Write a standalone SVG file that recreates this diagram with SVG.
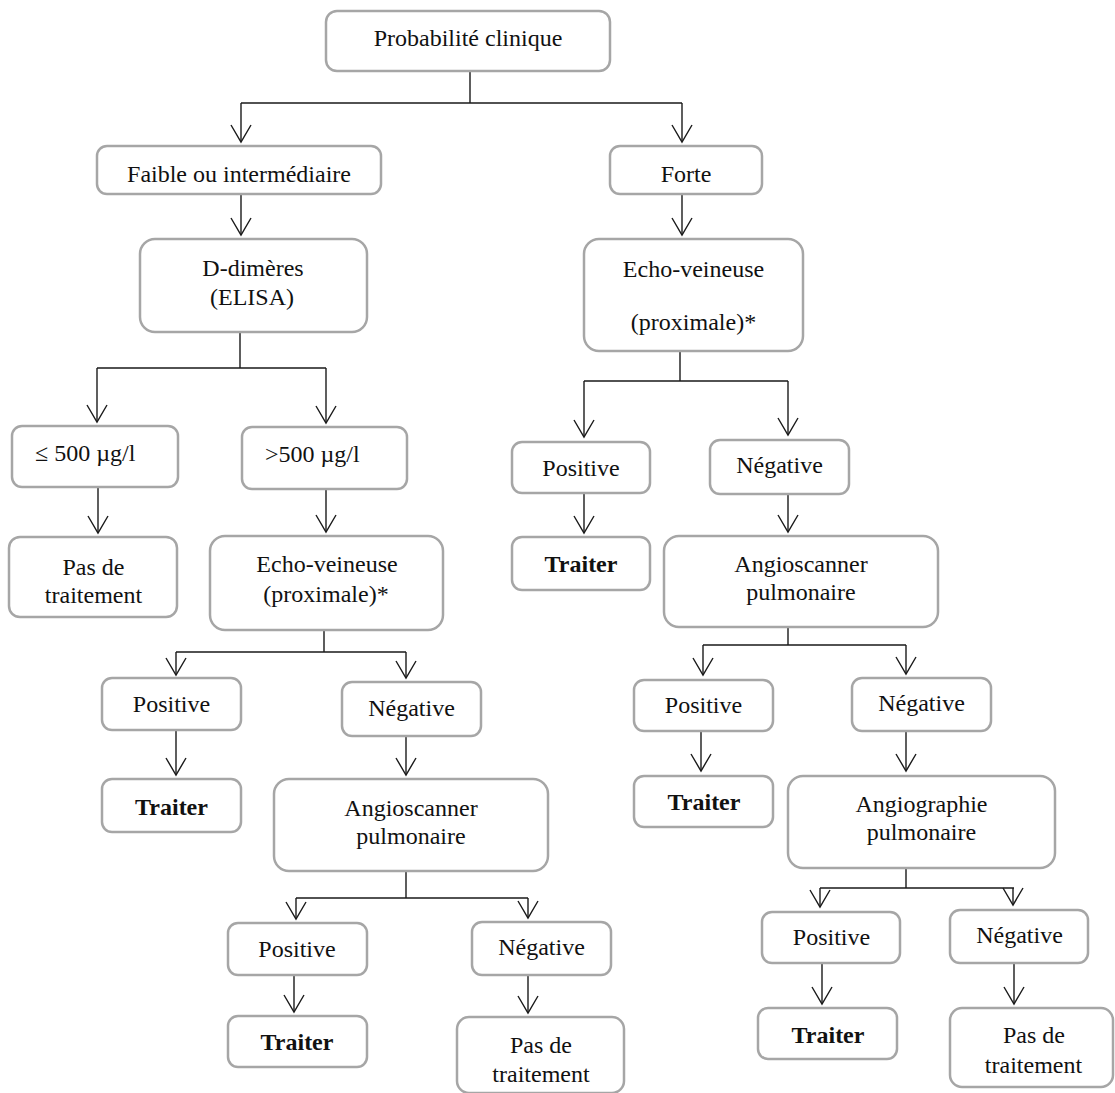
<svg xmlns="http://www.w3.org/2000/svg" width="1115" height="1093" viewBox="0 0 1115 1093">
  <defs>
    <style>
      .box { fill: #ffffff; stroke: #a6a6a6; stroke-width: 2.5; }
      .lbl { font-family: "Liberation Serif", "Times New Roman", serif; font-size: 24px; fill: #111111; text-anchor: middle; }
      .lbl-s { font-family: "Liberation Serif", "Times New Roman", serif; font-size: 24px; fill: #111111; text-anchor: start; }
      .bold { font-weight: bold; }
      .wire { fill: none; stroke: #1a1a1a; stroke-width: 1.4; }
      .arrow { marker-end: url(#vhead); }
    </style>
    <marker id="vhead" markerUnits="userSpaceOnUse" markerWidth="24" markerHeight="24" refX="17" refY="10" orient="auto" overflow="visible">
      <path d="M0,0 L17,10 L0,20" fill="none" stroke="#1a1a1a" stroke-width="1.4"/>
    </marker>
  </defs>
  <rect width="1115" height="1093" fill="#ffffff"/>

  <!-- connectors -->
  <g id="connectors">
    <path class="wire" d="M470,71 V103 M241,103 H682"/>
    <path class="wire arrow" d="M241,103 V142"/>
    <path class="wire arrow" d="M682,103 V142"/>
    <path class="wire arrow" d="M241,194 V235"/>
    <path class="wire arrow" d="M682,194 V235"/>

    <!-- D-dimères split -->
    <path class="wire" d="M240,332 V368 M97,368 H326"/>
    <path class="wire arrow" d="M97,368 V422"/>
    <path class="wire arrow" d="M326,368 V423"/>
    <path class="wire arrow" d="M98,488 V533"/>
    <path class="wire arrow" d="M326,490 V532"/>

    <!-- left echo split -->
    <path class="wire" d="M324,630 V652 M176,652 H406"/>
    <path class="wire arrow" d="M176,652 V675"/>
    <path class="wire arrow" d="M406,652 V678"/>
    <path class="wire arrow" d="M176,731 V775"/>
    <path class="wire arrow" d="M406,736 V775"/>

    <!-- left angioscanner split -->
    <path class="wire" d="M406,871 V898 M296,898 H528"/>
    <path class="wire arrow" d="M296,898 V919"/>
    <path class="wire arrow" d="M528,898 V918"/>
    <path class="wire arrow" d="M294,975 V1012"/>
    <path class="wire arrow" d="M528,975 V1013"/>

    <!-- right echo split -->
    <path class="wire" d="M680,351 V381 M584,381 H788"/>
    <path class="wire arrow" d="M584,381 V437"/>
    <path class="wire arrow" d="M788,381 V435"/>
    <path class="wire arrow" d="M584,493 V533"/>
    <path class="wire arrow" d="M788,494 V532"/>

    <!-- right angioscanner split -->
    <path class="wire" d="M788,627 V645 M703,645 H906"/>
    <path class="wire arrow" d="M703,645 V675"/>
    <path class="wire arrow" d="M906,645 V674"/>
    <path class="wire arrow" d="M701,731 V771"/>
    <path class="wire arrow" d="M906,731 V771"/>

    <!-- angiographie split -->
    <path class="wire" d="M906,868 V888 M820,888 H1014"/>
    <path class="wire arrow" d="M820,888 V907"/>
    <path class="wire arrow" d="M1013,888 V905"/>
    <path class="wire arrow" d="M822,963 V1004"/>
    <path class="wire arrow" d="M1014,963 V1004"/>
  </g>

  <!-- nodes -->
  <g id="n-proba">
    <rect class="box" x="326" y="11" width="284" height="60" rx="11"/>
    <text class="lbl" x="468" y="46">Probabilité clinique</text>
  </g>
  <g id="n-faible">
    <rect class="box" x="97" y="146" width="284" height="48" rx="10"/>
    <text class="lbl" x="239" y="182">Faible ou intermédiaire</text>
  </g>
  <g id="n-forte">
    <rect class="box" x="610" y="146" width="152" height="48" rx="10"/>
    <text class="lbl" x="686" y="182">Forte</text>
  </g>
  <g id="n-ddimeres">
    <rect class="box" x="140" y="239" width="227" height="93" rx="15"/>
    <text class="lbl" x="253" y="276">D-dimères</text>
    <text class="lbl" x="252" y="305">(ELISA)</text>
  </g>
  <g id="n-echo-forte">
    <rect class="box" x="584" y="239" width="219" height="112" rx="15"/>
    <text class="lbl" x="693.5" y="277">Echo-veineuse</text>
    <text class="lbl" x="693.5" y="330">(proximale)*</text>
  </g>
  <g id="n-inf500">
    <rect class="box" x="12" y="426" width="166" height="61" rx="10"/>
    <text class="lbl-s" x="35" y="461">≤ 500 µg/l</text>
  </g>
  <g id="n-sup500">
    <rect class="box" x="242" y="427" width="165" height="62" rx="10"/>
    <text class="lbl-s" x="265" y="462">&gt;500 µg/l</text>
  </g>
  <g id="n-pas-1">
    <rect class="box" x="9" y="537" width="168" height="80" rx="11"/>
    <text class="lbl" x="93.5" y="575">Pas de</text>
    <text class="lbl" x="93.5" y="603">traitement</text>
  </g>
  <g id="n-echo-faible">
    <rect class="box" x="210" y="536" width="233" height="94" rx="15"/>
    <text class="lbl" x="327" y="572">Echo-veineuse</text>
    <text class="lbl" x="326" y="602">(proximale)*</text>
  </g>
  <g id="n-pos-1">
    <rect class="box" x="102" y="678" width="139" height="52" rx="10"/>
    <text class="lbl" x="171.5" y="712">Positive</text>
  </g>
  <g id="n-traiter-1">
    <rect class="box" x="102" y="779" width="139" height="53" rx="10"/>
    <text class="lbl bold" x="171.5" y="815">Traiter</text>
  </g>
  <g id="n-neg-1">
    <rect class="box" x="342" y="682" width="139" height="54" rx="10"/>
    <text class="lbl" x="411.5" y="716">Négative</text>
  </g>
  <g id="n-angioscan-1">
    <rect class="box" x="274" y="779" width="274" height="92" rx="15"/>
    <text class="lbl" x="411" y="816">Angioscanner</text>
    <text class="lbl" x="411" y="844">pulmonaire</text>
  </g>
  <g id="n-pos-2">
    <rect class="box" x="228" y="923" width="139" height="52" rx="10"/>
    <text class="lbl" x="297" y="957">Positive</text>
  </g>
  <g id="n-traiter-2">
    <rect class="box" x="228" y="1016" width="139" height="51" rx="10"/>
    <text class="lbl bold" x="297" y="1050">Traiter</text>
  </g>
  <g id="n-neg-2">
    <rect class="box" x="472" y="922" width="139" height="53" rx="10"/>
    <text class="lbl" x="541.5" y="955">Négative</text>
  </g>
  <g id="n-pas-2">
    <rect class="box" x="457" y="1017" width="167" height="76" rx="12"/>
    <text class="lbl" x="541" y="1053">Pas de</text>
    <text class="lbl" x="541" y="1082">traitement</text>
  </g>
  <g id="n-pos-3">
    <rect class="box" x="512" y="442" width="138" height="51" rx="10"/>
    <text class="lbl" x="581" y="476">Positive</text>
  </g>
  <g id="n-traiter-3">
    <rect class="box" x="512" y="537" width="138" height="53" rx="10"/>
    <text class="lbl bold" x="581" y="572">Traiter</text>
  </g>
  <g id="n-neg-3">
    <rect class="box" x="710" y="440" width="139" height="54" rx="10"/>
    <text class="lbl" x="779.5" y="473">Négative</text>
  </g>
  <g id="n-angioscan-2">
    <rect class="box" x="664" y="536" width="274" height="91" rx="15"/>
    <text class="lbl" x="801" y="572">Angioscanner</text>
    <text class="lbl" x="801" y="600">pulmonaire</text>
  </g>
  <g id="n-pos-4">
    <rect class="box" x="634" y="680" width="139" height="51" rx="10"/>
    <text class="lbl" x="703.5" y="713">Positive</text>
  </g>
  <g id="n-traiter-4">
    <rect class="box" x="634" y="776" width="139" height="51" rx="10"/>
    <text class="lbl bold" x="704" y="810">Traiter</text>
  </g>
  <g id="n-neg-4">
    <rect class="box" x="852" y="678" width="139" height="53" rx="10"/>
    <text class="lbl" x="921.5" y="711">Négative</text>
  </g>
  <g id="n-angiographie">
    <rect class="box" x="788" y="776" width="267" height="92" rx="15"/>
    <text class="lbl" x="921.5" y="812">Angiographie</text>
    <text class="lbl" x="921.5" y="840">pulmonaire</text>
  </g>
  <g id="n-pos-5">
    <rect class="box" x="762" y="912" width="138" height="51" rx="10"/>
    <text class="lbl" x="831.5" y="945">Positive</text>
  </g>
  <g id="n-traiter-5">
    <rect class="box" x="758" y="1008" width="139" height="51" rx="10"/>
    <text class="lbl bold" x="828" y="1043">Traiter</text>
  </g>
  <g id="n-neg-5">
    <rect class="box" x="950" y="910" width="138" height="53" rx="10"/>
    <text class="lbl" x="1019.5" y="943">Négative</text>
  </g>
  <g id="n-pas-3">
    <rect class="box" x="950" y="1008" width="163" height="79" rx="12"/>
    <text class="lbl" x="1034" y="1043">Pas de</text>
    <text class="lbl" x="1033.5" y="1073">traitement</text>
  </g>
</svg>
